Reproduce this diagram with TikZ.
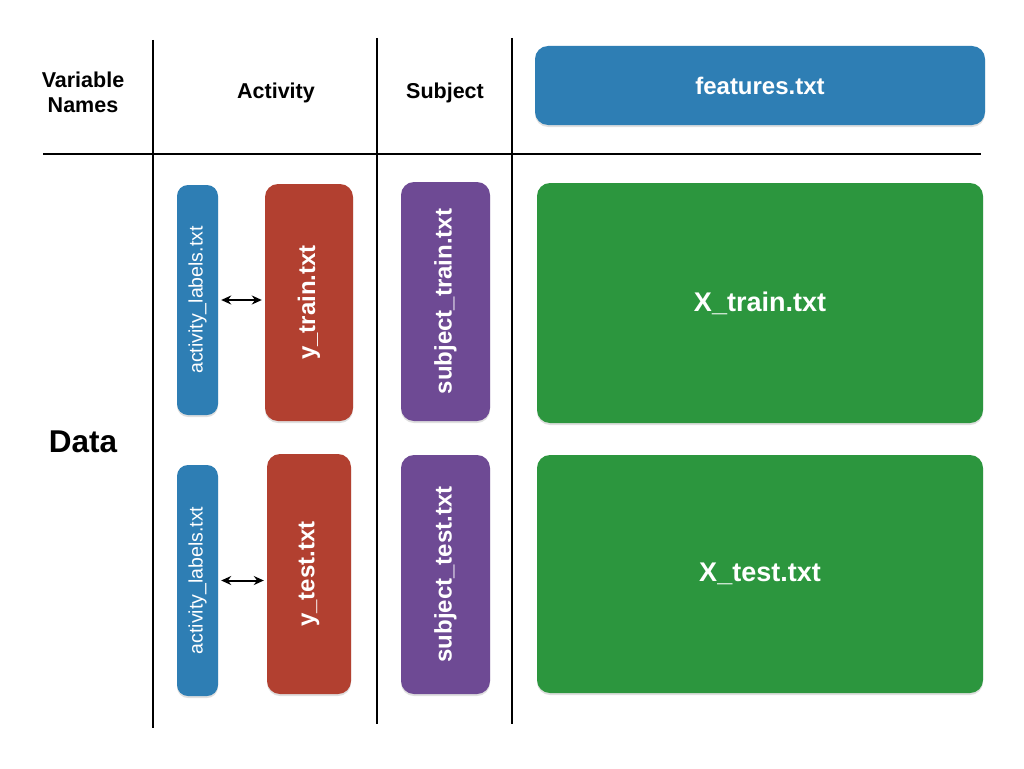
\documentclass[tikz,border=0pt]{standalone}
\usepackage{fontspec}
\setmainfont{Liberation Sans}
\usetikzlibrary{arrows.meta,shadows}
\definecolor{fblue}{RGB}{46,126,180}
\definecolor{fred}{RGB}{178,64,48}
\definecolor{fpurple}{RGB}{110,74,148}
\definecolor{fgreen}{RGB}{44,150,62}
\tikzset{
  filebox/.style={rounded corners=13pt, inner sep=0pt, text=white, font=\bfseries\fontsize{24}{28}\selectfont,
    drop shadow={opacity=0.25, shadow xshift=0pt, shadow yshift=-2pt}},
  labbox/.style={filebox, font=\fontsize{19.5}{23}\selectfont, rounded corners=11pt},
  bigbox/.style={filebox, font=\bfseries\fontsize{27}{32}\selectfont},
  head/.style={font=\bfseries\fontsize{21.5}{26}\selectfont, align=center},
  grid/.style={line width=1.8pt, black},
  link/.style={{Stealth[length=10pt,width=9pt]}-{Stealth[length=10pt,width=9pt]}, line width=2pt, shorten <=3pt, shorten >=3pt}
}
\begin{document}
\begin{tikzpicture}[x=1pt,y=-1pt]
\useasboundingbox[fill=white] (0,0) rectangle (1024,768);
% grid lines
\coordinate (v1t) at (153,40); \coordinate (v1b) at (153,728);
\coordinate (v2t) at (377,38); \coordinate (v2b) at (377,724);
\coordinate (v3t) at (512,38); \coordinate (v3b) at (512,724);
\coordinate (hl) at (43,154); \coordinate (hr) at (981,154);
\draw[grid] (v1t) -- (v1b);
\draw[grid] (v2t) -- (v2b);
\draw[grid] (v3t) -- (v3b);
\draw[grid] (hl) -- (hr);
% headers
\node[head] (hvar) at (83,92) {Variable\\[-1pt]Names};
\node[head] (hact) at (276,93) {Activity};
\node[head] (hsub) at (445,93) {Subject};
\node[font=\bfseries\fontsize{31.5}{36}\selectfont] (hdata) at (83,442) {Data};
% boxes
\node[filebox, fill=fblue, minimum width=450pt, minimum height=79pt] (feat) at (760,85.5) {features.txt};
\node[labbox, fill=fblue, minimum width=41pt, minimum height=230pt] (al1) at (197.5,300) {\rotatebox{90}{activity\_labels.txt}};
\node[filebox, fill=fred, minimum width=88pt, minimum height=237pt] (ytr) at (309,302.5) {\rotatebox{90}{y\_train.txt}};
\node[filebox, fill=fpurple, minimum width=89pt, minimum height=239pt] (str) at (445.5,301.5) {\rotatebox{90}{subject\_train.txt}};
\node[bigbox, fill=fgreen, minimum width=446pt, minimum height=240pt] (xtr) at (760,303) {X\_train.txt};
\node[labbox, fill=fblue, minimum width=41pt, minimum height=231pt] (al2) at (197.5,580.5) {\rotatebox{90}{activity\_labels.txt}};
\node[filebox, fill=fred, minimum width=84pt, minimum height=240pt] (yte) at (309,574) {\rotatebox{90}{y\_test.txt}};
\node[filebox, fill=fpurple, minimum width=89pt, minimum height=239pt] (ste) at (445.5,574.5) {\rotatebox{90}{subject\_test.txt}};
\node[bigbox, fill=fgreen, minimum width=446pt, minimum height=238pt] (xte) at (760,574) {X\_test.txt};
% links
\draw[link] (al1.east) -- (al1.east -| ytr.west);
\draw[link] (al2.east) -- (al2.east -| yte.west);
\end{tikzpicture}
\end{document}
